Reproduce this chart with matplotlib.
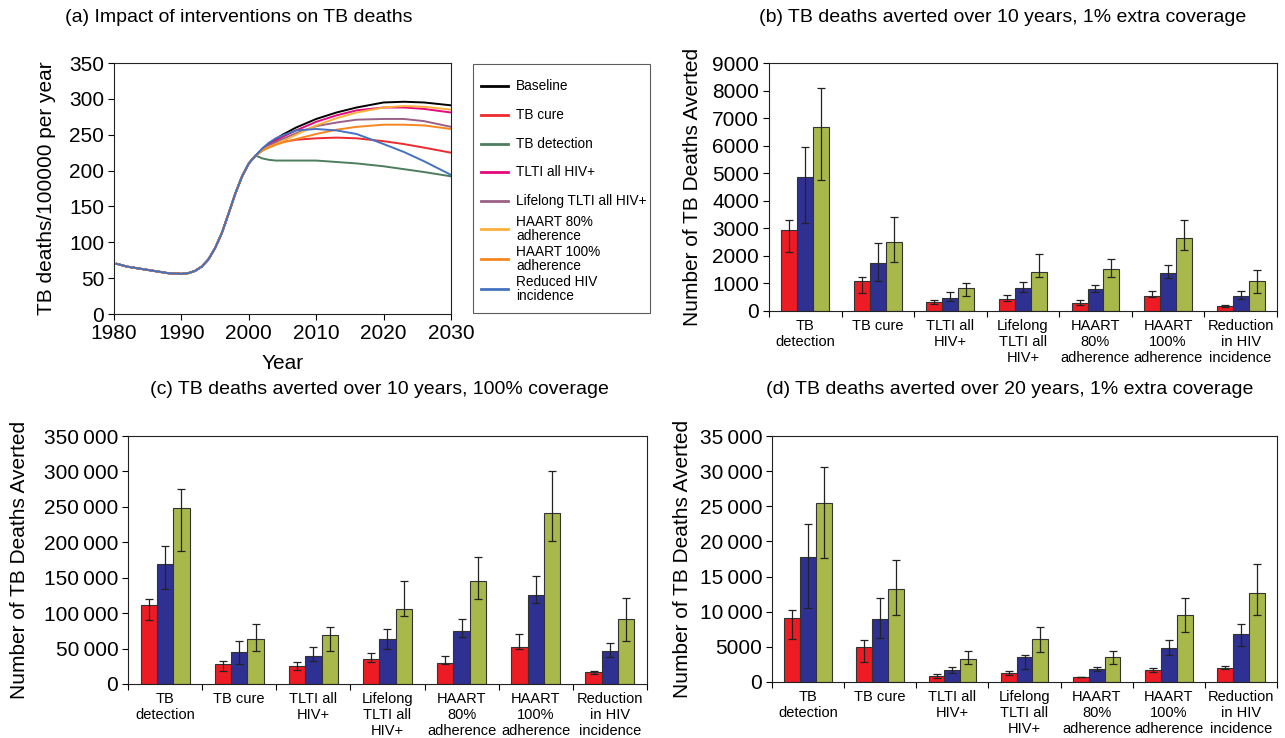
import numpy as np
import matplotlib.pyplot as plt
from matplotlib.ticker import FuncFormatter

plt.rcParams["font.family"] = ["Liberation Sans", "DejaVu Sans"]
NARROW = ["Liberation Sans Narrow", "Liberation Sans", "DejaVu Sans"]

# ---- panel (a): TB deaths per 100 000 per year ----
early_years = [1980.4, 1982, 1984, 1986, 1988, 1990, 1991, 1992, 1993, 1994,
               1995, 1996, 1997, 1998, 1999, 2000]
early_deaths = [70, 66, 63, 60, 57, 56, 57, 60, 66, 76, 92, 113, 140, 168, 192, 210]

late_years = [2001, 2002, 2003, 2004, 2005, 2007, 2010, 2013, 2016, 2020, 2023, 2026, 2030]
baseline = [221, 229, 237, 244, 250, 260, 272, 281, 288, 295, 296, 295, 291]
tb_cure = [221, 228, 234, 238, 240, 243, 245, 246, 245, 241, 237, 232, 225]
tb_detection = [221, 217, 215, 214, 214, 214, 214, 212, 210, 206, 202, 198, 192]
tlti_all = [221, 229, 236, 242, 247, 256, 268, 277, 284, 288, 288, 286, 281]
lifelong_tlti = [221, 228, 235, 240, 244, 252, 262, 267, 271, 272, 272, 269, 261]
haart_80 = [221, 228, 233, 237, 241, 250, 263, 273, 281, 288, 290, 289, 285]
haart_100 = [221, 228, 232, 236, 239, 244, 251, 257, 261, 264, 264, 263, 258]
reduced_hiv = [221, 231, 239, 245, 249, 256, 258, 256, 251, 237, 226, 213, 194]

scenario_labels = ["Baseline", "TB cure", "TB detection", "TLTI all HIV+",
                   "Lifelong TLTI all HIV+", "HAART 80%\nadherence",
                   "HAART 100%\nadherence", "Reduced HIV\nincidence"]
scenario_series = [baseline, tb_cure, tb_detection, tlti_all, lifelong_tlti,
                   haart_80, haart_100, reduced_hiv]
scenario_colors = ["#000000", "#EE2A2F", "#4B7D5E", "#E5087E", "#9A6186",
                   "#FBB03B", "#F7861F", "#4572C0"]

# ---- bar panels ----
categories = ["TB\ndetection", "TB cure", "TLTI all\nHIV+", "Lifelong\nTLTI all\nHIV+",
              "HAART\n80%\nadherence", "HAART\n100%\nadherence", "Reduction\nin HIV\nincidence"]
bar_colors = ["#ED1C24", "#2E3192", "#A9B84B"]

# (b) 10 years, 1% extra coverage
b_red = [2950, 1080, 320, 450, 280, 530, 190]
b_red_lo = [2150, 650, 250, 350, 230, 500, 160]
b_red_hi = [3320, 1250, 400, 590, 390, 720, 220]
b_blue = [4880, 1760, 480, 830, 800, 1370, 560]
b_blue_lo = [3200, 1080, 350, 680, 680, 1200, 450]
b_blue_hi = [5950, 2480, 680, 1070, 950, 1680, 720]
b_green = [6680, 2490, 830, 1400, 1520, 2640, 1080]
b_green_lo = [4750, 1770, 530, 1250, 1240, 2200, 640]
b_green_hi = [8080, 3400, 1000, 2080, 1870, 3320, 1470]

# (c) 10 years, 100% coverage
c_red = [111000, 28000, 25000, 35000, 30000, 52000, 17000]
c_red_lo = [91000, 18000, 20000, 31000, 28000, 50000, 14000]
c_red_hi = [120000, 32000, 31000, 44000, 39000, 70000, 19000]
c_blue = [170000, 45000, 39000, 64000, 75000, 125000, 47000]
c_blue_lo = [134000, 28000, 33000, 50000, 67000, 114000, 38000]
c_blue_hi = [195000, 61000, 52000, 77000, 92000, 152000, 58000]
c_green = [249000, 64000, 69000, 106000, 145000, 241000, 92000]
c_green_lo = [187000, 47000, 47000, 96000, 120000, 202000, 61000]
c_green_hi = [275000, 84000, 81000, 145000, 179000, 300000, 122000]

# (d) 20 years, 1% extra coverage
d_red = [9100, 5000, 800, 1300, 650, 1650, 2000]
d_red_lo = [6100, 2900, 600, 1000, 650, 1400, 1900]
d_red_hi = [10300, 6000, 1100, 1600, 650, 2000, 2300]
d_blue = [17800, 8900, 1700, 3500, 1900, 4900, 6800]
d_blue_lo = [10500, 6300, 1300, 1900, 1500, 3900, 5100]
d_blue_hi = [22500, 12000, 2100, 3900, 2200, 6000, 8300]
d_green = [25500, 13200, 3200, 6100, 3500, 9600, 12700]
d_green_lo = [17700, 9600, 2500, 4200, 2500, 7100, 9600]
d_green_hi = [30600, 17400, 4400, 7800, 4400, 12000, 16800]


def thousands(v, _):
    v = int(round(v))
    if v >= 10000:
        return f"{v:,}".replace(",", "\u2009")
    return str(v)


def style_spines(ax):
    for s in ax.spines.values():
        s.set_linewidth(0.8)
        s.set_color("#222222")


def bar_panel(ax, vals, lows, highs, ymax, step):
    x = np.arange(len(categories)) + 0.5
    bw = 0.22
    for k in range(3):
        xs = x + (k - 1) * bw
        v = np.array(vals[k])
        yerr = [v - np.array(lows[k]), np.array(highs[k]) - v]
        ax.bar(xs, v, bw, color=bar_colors[k], edgecolor="#333333", linewidth=0.8, zorder=2)
        ax.errorbar(xs, v, yerr=yerr, fmt="none", ecolor="#222222", elinewidth=0.9,
                    capsize=3, capthick=0.9, zorder=3)
    ax.set_xlim(0, len(categories))
    ax.set_ylim(0, ymax)
    ax.set_yticks(np.arange(0, ymax + 1, step))
    ax.yaxis.set_major_formatter(FuncFormatter(thousands))
    ax.set_xticks(range(len(categories) + 1))
    ax.set_xticklabels([])
    ax.set_xticks(x, minor=True)
    ax.set_xticklabels(categories, minor=True, family=NARROW, fontsize=10.5,
                       linespacing=1.15, va="top")
    ax.tick_params(axis="x", which="major", direction="out", length=4, width=0.8)
    ax.tick_params(axis="x", which="minor", length=0, pad=6)
    ax.tick_params(axis="y", direction="out", length=4, width=0.8, labelsize=15, pad=3)
    style_spines(ax)


fig = plt.figure(figsize=(12.85, 7.38), dpi=100)

# (a) line chart
ax_a = fig.add_axes([0.0887, 0.5745, 0.2623, 0.3401])
for label, series, col in zip(scenario_labels, scenario_series, scenario_colors):
    xs = early_years + late_years
    ys = early_deaths + series
    ax_a.plot(xs, ys, color=col, lw=1.4, label=label)
ax_a.set_xlim(1980, 2030)
ax_a.set_ylim(0, 350)
ax_a.set_xticks(range(1980, 2031, 10))
ax_a.set_yticks(range(0, 351, 50))
ax_a.tick_params(direction="out", length=4, width=0.8, labelsize=15, pad=3)
ax_a.set_xlabel("Year", fontsize=15, labelpad=8)
style_spines(ax_a)

leg = ax_a.legend(loc="upper left", bbox_to_anchor=(473 / 1285, 1 - 64 / 738, 177 / 1285, 0.0),
                  bbox_transform=fig.transFigure, mode="expand", borderaxespad=0,
                  fontsize=9.8, frameon=True, fancybox=False, edgecolor="#333333",
                  handlelength=2.0, handletextpad=0.55, handleheight=2.85,
                  labelspacing=0.0, borderpad=0.6)
leg.get_frame().set_linewidth(0.8)
for t in leg.get_texts():
    t.set_linespacing(1.05)
for ln in leg.get_lines():
    ln.set_linewidth(2.0)

# centre each legend key on its label
fig.canvas.draw()
renderer = fig.canvas.get_renderer()
for ln, txt in zip(leg.get_lines(), leg.get_texts()):
    bb = txt.get_window_extent(renderer)
    tr = ln.get_transform()
    pts = tr.transform(np.column_stack([ln.get_xdata(), ln.get_ydata()]))
    pts[:, 1] = 0.5 * (bb.y0 + bb.y1)
    ln.set_ydata(tr.inverted().transform(pts)[:, 1])

# (b)
ax_b = fig.add_axes([0.5984, 0.5786, 0.3953, 0.3360])
bar_panel(ax_b, [b_red, b_blue, b_green], [b_red_lo, b_blue_lo, b_green_lo],
          [b_red_hi, b_blue_hi, b_green_hi], 9000, 1000)

# (c)
ax_c = fig.add_axes([0.0996, 0.0732, 0.4039, 0.3360])
bar_panel(ax_c, [c_red, c_blue, c_green], [c_red_lo, c_blue_lo, c_green_lo],
          [c_red_hi, c_blue_hi, c_green_hi], 350000, 50000)

# (d)
ax_d = fig.add_axes([0.6008, 0.0759, 0.3930, 0.3333])
bar_panel(ax_d, [d_red, d_blue, d_green], [d_red_lo, d_blue_lo, d_green_lo],
          [d_red_hi, d_blue_hi, d_green_hi], 35000, 5000)

# titles and y-axis labels
H = 738.0
W = 1285.0
fig.text(239 / W, 1 - 17 / H, "(a) Impact of interventions on TB deaths",
         ha="center", va="center", fontsize=14)
fig.text(1003 / W, 1 - 17 / H, "(b) TB deaths averted over 10 years, 1% extra coverage",
         ha="center", va="center", fontsize=14)
fig.text(379 / W, 1 - 390 / H, "(c) TB deaths averted over 10 years, 100% coverage",
         ha="center", va="center", fontsize=14)
fig.text(1010 / W, 1 - 390 / H, "(d) TB deaths averted over 20 years, 1% extra coverage",
         ha="center", va="center", fontsize=14)

fig.text(47 / W, 1 - 188 / H, "TB deaths/100000 per year", rotation=90,
         ha="center", va="center", fontsize=15)
fig.text(692 / W, 1 - 187 / H, "Number of TB Deaths Averted", rotation=90,
         ha="center", va="center", fontsize=15)
fig.text(20 / W, 1 - 560 / H, "Number of TB Deaths Averted", rotation=90,
         ha="center", va="center", fontsize=15)
fig.text(683 / W, 1 - 559 / H, "Number of TB Deaths Averted", rotation=90,
         ha="center", va="center", fontsize=15)

fig.savefig("out.png", dpi=100)
